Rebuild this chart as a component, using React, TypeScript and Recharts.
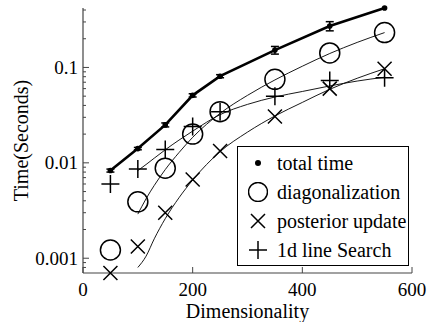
import { ComposedChart, Line, Scatter, XAxis, YAxis, ErrorBar } from 'recharts'

// measured problem sizes
const dims = [50, 100, 150, 200, 250, 350, 450, 550]
const totalTime = [0.0083, 0.0141, 0.025, 0.051, 0.081, 0.152, 0.272, 0.42]
const totalErr = [0.0003, 0.0004, 0.0012, 0.002, 0.003, 0.014, 0.03, 0]
const diagonalization = [0.00122, 0.0039, 0.0088, 0.02, 0.0344, 0.075, 0.142, 0.232]
const posteriorUpdate = [0.0007, 0.00133, 0.003, 0.0067, 0.0133, 0.0306, 0.06, 0.097]
const lineSearch = [0.006, 0.0086, 0.0138, 0.024, 0.0344, 0.05, 0.073, 0.078]

// fitted curves (thin lines)
const fitDims = [100, 115, 130, 150, 175, 200, 250, 300, 350, 400, 450, 500, 550]
const diagFit = [0.0029, 0.0042, 0.0058, 0.0085, 0.0128, 0.0185, 0.033, 0.051, 0.074, 0.103, 0.14, 0.183, 0.232]
const posteriorFit = [0.0008, 0.00105, 0.0016, 0.0026, 0.0043, 0.0066, 0.0131, 0.021, 0.031, 0.043, 0.059, 0.077, 0.097]
const searchFit = [0.0083, 0.0096, 0.0112, 0.0137, 0.0173, 0.0215, 0.032, 0.041, 0.049, 0.056, 0.064, 0.072, 0.079]

const xTicks = [0, 200, 400, 600]
const yMajor = [0.001, 0.01, 0.1]
const yMinor = [0.0008, 0.0009, 0.002, 0.003, 0.004, 0.005, 0.006, 0.007, 0.008, 0.009,
  0.02, 0.03, 0.04, 0.05, 0.06, 0.07, 0.08, 0.09, 0.2, 0.3, 0.4]

const FONT = '"Liberation Serif", "DejaVu Serif", serif'
const AXIS = '#444'

const pts = (xs: number[], ys: number[], es?: number[]) =>
  xs.map((x, i) => ({ x, y: ys[i], e: es ? es[i] : 0 }))

const totalData = pts(dims, totalTime, totalErr)
const diagData = pts(dims, diagonalization)
const postData = pts(dims, posteriorUpdate)
const searchData = pts(dims, lineSearch)

const Circle = ({ cx, cy }: any) => (
  <circle cx={cx} cy={cy} r={10} fill="none" stroke="#000" strokeWidth={1.5} />
)
const Cross = ({ cx, cy }: any) => (
  <path d={`M${cx - 7},${cy - 7}L${cx + 7},${cy + 7}M${cx - 7},${cy + 7}L${cx + 7},${cy - 7}`}
    stroke="#000" strokeWidth={1.5} fill="none" />
)
const Plus = ({ cx, cy }: any) => (
  <path d={`M${cx - 9},${cy}L${cx + 9},${cy}M${cx},${cy - 9}L${cx},${cy + 9}`}
    stroke="#000" strokeWidth={1.5} fill="none" />
)

function YTick({ x, y, payload }: any) {
  const major = yMajor.includes(payload.value)
  return (
    <g>
      <line x1={x + 5} x2={x + 5 + (major ? 6 : 3)} y1={y} y2={y} stroke={AXIS} />
      {major && (
        <text x={x} y={y} dy="0.34em" textAnchor="end" fontSize={19} fontFamily={FONT} fill="#000">
          {payload.value}
        </text>
      )}
    </g>
  )
}

function XTick({ x, y, payload }: any) {
  return (
    <g>
      <line x1={x} x2={x} y1={y - 10} y2={y - 16} stroke={AXIS} />
      <text x={x} y={y} dy="0.66em" textAnchor="middle" fontSize={19} fontFamily={FONT} fill="#000">
        {payload.value}
      </text>
    </g>
  )
}

const legendRows = [
  { label: 'total time', mark: <circle cx={10} cy={10} r={3} fill="#000" /> },
  { label: 'diagonalization', mark: <circle cx={10} cy={10} r={9.5} fill="none" stroke="#000" strokeWidth={1.5} /> },
  { label: 'posterior update', mark: <path d="M3,3L17,17M3,17L17,3" stroke="#000" strokeWidth={1.5} /> },
  { label: '1d line Search', mark: <path d="M1,10L19,10M10,1L10,19" stroke="#000" strokeWidth={1.5} /> },
]

function LegendBox() {
  return (
    <div style={{
      position: 'absolute', left: 237, top: 146, width: 172, height: 120, boxSizing: 'border-box',
      border: '1.5px solid #000', background: '#fff', paddingTop: 1.5, fontFamily: FONT, fontSize: 20,
    }}>
      {legendRows.map((r) => (
        <div key={r.label} style={{ display: 'flex', alignItems: 'center', height: 29 }}>
          <svg width={20} height={20} style={{ marginLeft: 10, marginRight: 9, flex: 'none' }}>{r.mark}</svg>
          <span style={{ whiteSpace: 'nowrap' }}>{r.label}</span>
        </div>
      ))}
    </div>
  )
}

export default function App() {
  return (
    <div style={{ position: 'absolute', left: 0, top: 0, width: 434, height: 322, background: '#fff', fontFamily: FONT }}>
      <ComposedChart width={434} height={322} margin={{ top: 8, right: 22, bottom: 0, left: 8 }}>
        <XAxis
          type="number" dataKey="x" domain={[0, 600]} ticks={xTicks} interval={0}
          height={49} tickSize={0} tickMargin={10} tickLine={false} tick={<XTick />}
          axisLine={{ stroke: AXIS, strokeWidth: 1.2 }}
          label={{ value: 'Dimensionality', position: 'insideBottom', offset: 4, style: { fontSize: 20, fill: '#000', fontFamily: FONT } }}
        />
        <YAxis
          type="number" scale="log" domain={[0.0007, 0.42]} ticks={[...yMajor, ...yMinor]} interval={0}
          width={75} tickSize={0} tickMargin={5} tickLine={false} tick={<YTick />}
          axisLine={{ stroke: AXIS, strokeWidth: 1.2 }}
          label={{ value: 'Time(Seconds)', angle: -90, position: 'insideLeft', offset: 13, style: { textAnchor: 'middle', fontSize: 20, fill: '#000', fontFamily: FONT } }}
        />
        <Line data={pts(fitDims, diagFit)} dataKey="y" type="monotone" stroke="#000" strokeWidth={0.9} dot={false} isAnimationActive={false} />
        <Line data={pts(fitDims, posteriorFit)} dataKey="y" type="monotone" stroke="#000" strokeWidth={0.9} dot={false} isAnimationActive={false} />
        <Line data={pts(fitDims, searchFit)} dataKey="y" type="monotone" stroke="#000" strokeWidth={0.9} dot={false} isAnimationActive={false} />
        <Line data={totalData} dataKey="y" type="linear" stroke="#000" strokeWidth={2.6}
          dot={{ r: 2.8, fill: '#000', stroke: '#000', strokeWidth: 0 }} isAnimationActive={false}>
          <ErrorBar dataKey="e" direction="y" width={4} stroke="#000" strokeWidth={1.5} />
        </Line>
        <Scatter data={diagData} dataKey="y" shape={Circle} isAnimationActive={false} />
        <Scatter data={postData} dataKey="y" shape={Cross} isAnimationActive={false} />
        <Scatter data={searchData} dataKey="y" shape={Plus} isAnimationActive={false} />
      </ComposedChart>
      <LegendBox />
    </div>
  )
}
